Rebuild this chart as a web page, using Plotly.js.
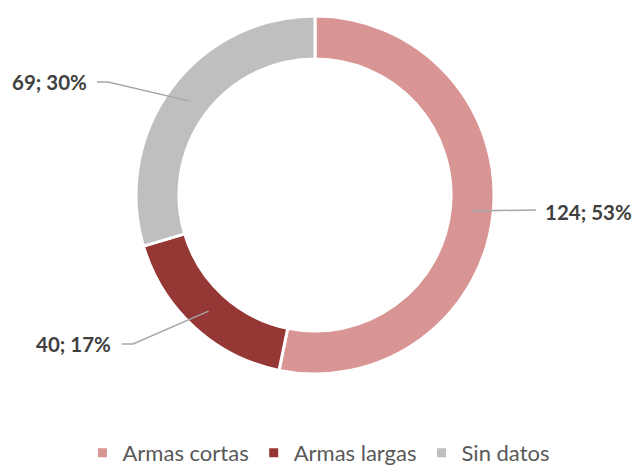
<!DOCTYPE html>
<html>
<head>
<meta charset="utf-8">
<script src="https://cdn.plot.ly/plotly-3.0.1.min.js"></script>
<style>html,body{margin:0;padding:0;background:#fff;}#chart{width:637px;height:466px;}</style>
</head>
<body>
<div id="chart"></div>
<script>
const categories = ["Armas cortas", "Armas largas", "Sin datos"];
const values = [124, 40, 69];
const percents = [53, 17, 30];
const colors = ["#D99594", "#953735", "#BFBFBF"];

const W = 637, H = 466;
const cx = 315, cy = 195, R = 179, hole = 0.76;
// label layout: [elbowX, elbowY, endX, endY, textX, textY, anchor]
const labelLayout = [
  [536, 210, 536, 210, 543, 212, "left"],
  [133, 344, 122, 344, 113, 344, "right"],
  [108, 82, 97, 82, 89, 82, "right"]
];

const total = values.reduce((a, b) => a + b, 0);
const px = x => x / W, py = y => 1 - y / H;

const shapes = [], annotations = [];
let cum = 0;
values.forEach((v, i) => {
  const t = (cum + v / 2) / total * 2 * Math.PI;
  cum += v;
  const rm = R * (1 + hole) / 2;
  const sx = cx + rm * Math.sin(t), sy = cy - rm * Math.cos(t);
  const L = labelLayout[i];
  shapes.push({
    type: "path", xref: "paper", yref: "paper",
    path: `M${px(sx)},${py(sy)} L${px(L[0])},${py(L[1])} L${px(L[2])},${py(L[3])}`,
    line: {color: "#A6A6A6", width: 1.5}
  });
  annotations.push({
    xref: "paper", yref: "paper", x: px(L[4]), y: py(L[5]),
    xanchor: L[6], yanchor: "middle", showarrow: false,
    text: `<b>${v}; ${percents[i]}%</b>`,
    font: {family: "Lato, sans-serif", size: 20.5, color: "#404040"}
  });
});

const data = [{
  type: "pie",
  labels: categories,
  values: values,
  hole: hole,
  sort: false,
  direction: "clockwise",
  rotation: 0,
  textinfo: "none",
  hoverinfo: "none",
  marker: {colors: colors, line: {color: "#FFFFFF", width: 3}},
  domain: {x: [(cx - R) / W, (cx + R) / W], y: [1 - (cy + R) / H, 1 - (cy - R) / H]}
}];

const layout = {
  width: W, height: H,
  margin: {l: 0, r: 0, t: 0, b: 0, autoexpand: false},
  paper_bgcolor: "#FFFFFF",
  showlegend: true,
  legend: {
    orientation: "h", x: 0.5, xanchor: "center", y: -8 / H, yanchor: "bottom",
    font: {family: "Lato, sans-serif", size: 22, color: "#595959"},
    itemwidth: 30, traceorder: "normal", itemgap: 0
  },
  shapes: shapes,
  annotations: annotations
};

Plotly.newPlot("chart", data, layout, {displayModeBar: false, staticPlot: true});
</script>
</body>
</html>
